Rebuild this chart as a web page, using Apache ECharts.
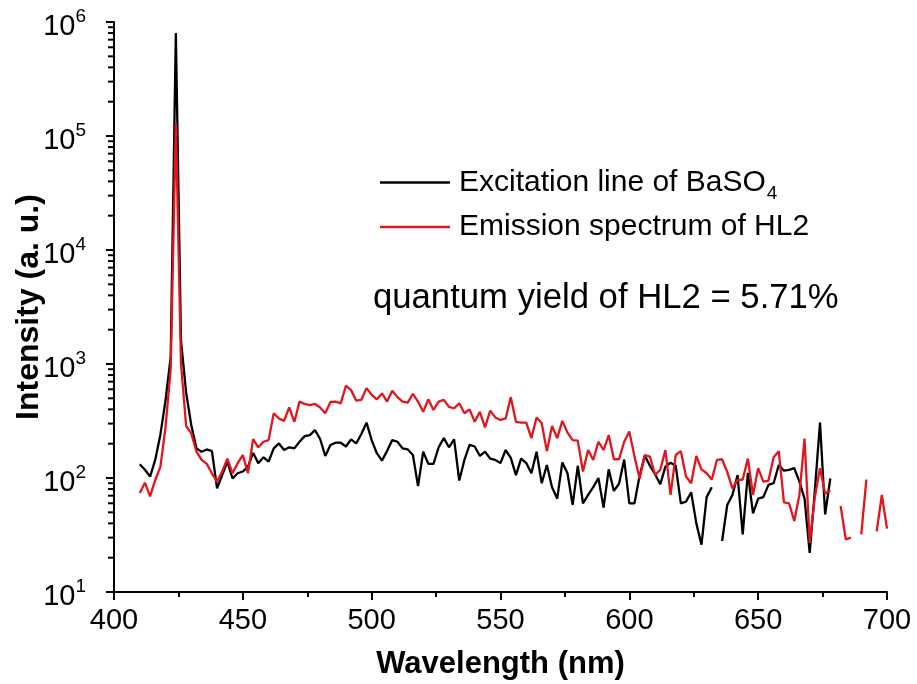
<!DOCTYPE html>
<html>
<head>
<meta charset="utf-8">
<script src="https://cdn.jsdelivr.net/npm/echarts@6.0.0/dist/echarts.min.js"></script>
<style>
  html, body { margin: 0; padding: 0; background: #ffffff; }
  #chart { width: 917px; height: 684px; }
</style>
</head>
<body>
<div id="chart"></div>
<script>
// Wavelength sampling (nm)
const wavelengths = [
  410,412,414,416,418,420,422,424,426,428,430,432,434,436,438,440,442,444,446,448,
  450,452,454,456,458,460,462,464,466,468,470,472,474,476,478,480,482,484,486,488,
  490,492,494,496,498,500,502,504,506,508,510,512,514,516,518,520,522,524,526,528,
  530,532,534,536,538,540,542,544,546,548,550,552,554,556,558,560,562,564,566,568,
  570,572,574,576,578,580,582,584,586,588,590,592,594,596,598,600,602,604,606,608,
  610,612,614,616,618,620,622,624,626,628,630,632,634,636,638,640,642,644,646,648,
  650,652,654,656,658,660,662,664,666,668,670,672,674,676,678,680,682,684,686,688,
  690,692,694,696,698,700
];

// Excitation line of BaSO4 (410–678 nm), intensity in a.u.
const excitation = [
  132,118,103,144,240,480,1150,800000,1600,560,290,182,170,178,172,81,106,139,99,110,
  114,126,166,135,152,139,182,201,176,186,182,208,233,238,263,220,156,195,204,204,
  189,218,201,243,306,215,165,142,173,215,208,182,178,159,85,170,133,133,186,224,
  186,218,95,144,195,189,156,170,148,144,135,176,150,106,148,135,110,170,90,130,
  83,66,137,110,58,128,60,71,83,100,55,119,77,89,145,60,60,105,157,128,
  108,88,126,136,128,60,62,75,40,26,68,83,null,28,58,71,106,32,111,49,
  66,68,87,90,130,116,118,122,93,66,22,78,306,48,99
];

// Emission spectrum of HL2 (410–700 nm), intensity in a.u.
const emission = [
  74,91,69,96,125,280,900,130000,1000,285,246,170,144,133,110,93,114,148,110,135,
  159,110,219,186,208,215,370,333,317,417,311,468,446,436,446,415,370,465,468,452,
  645,590,478,485,614,537,490,552,468,582,512,468,458,548,468,381,490,395,468,485,
  421,409,452,370,400,311,381,278,390,340,323,333,512,311,306,306,224,340,302,172,
  286,224,317,250,215,213,114,176,144,208,176,238,146,146,208,256,154,99,159,154,
  106,118,176,71,159,172,103,90,156,119,110,97,144,146,113,81,96,97,148,71,
  122,93,95,152,172,61,60,42,71,222,27,68,122,73,78,null,57,29,30,null,
  32,97,null,34,71,36
];

// Axis ticks
const xTickInterval = 50;
const yDecades = [10, 100, 1000, 10000, 100000, 1000000];
const yMinorMantissas = [2, 3, 4, 5, 6, 7, 8, 9];

const FONT = '"Liberation Sans", Arial, Helvetica, sans-serif';

// Minor ticks at 2..9 times each decade
const yMinorTicks = [];
yDecades.slice(0, -1).forEach(d => yMinorMantissas.forEach(m => yMinorTicks.push(d * m)));

const pair = (vals) => vals.map((v, i) => [wavelengths[i], v]);

const chart = echarts.init(document.getElementById('chart'), null, { renderer: 'canvas' });

const exponentOf = v => String(Math.round(Math.log10(v)));

const yieldText = {
  id: 'yield',
  type: 'text',
  left: 373,
  top: 281,
  style: {
    text: 'quantum yield of HL2 = 5.71%',
    fontFamily: FONT,
    fontSize: 34.7,
    fill: '#000'
  }
};

chart.setOption({
  animation: false,
  backgroundColor: '#ffffff',
  grid: { left: 114, right: 30, top: 22, bottom: 92, containLabel: false, outerBoundsMode: 'none' },
  legend: {
    orient: 'vertical',
    left: 375,
    top: 157,
    icon: 'rect',
    itemWidth: 70,
    itemHeight: 2.5,
    itemGap: 9,
    data: ['Excitation line of BaSO4', 'Emission spectrum of HL2'],
    formatter: name => name === 'Excitation line of BaSO4'
      ? '{n|Excitation line of BaSO}{sub|4}'
      : '{n|' + name + '}',
    textStyle: {
      color: '#000',
      fontFamily: FONT,
      fontSize: 30,
      padding: [0, 0, 0, 4],
      rich: {
        n: { fontSize: 30, lineHeight: 32, fontFamily: FONT, color: '#000' },
        sub: { fontSize: 19, lineHeight: 19, padding: [22, 0, 0, 1], fontFamily: FONT, color: '#000' }
      }
    }
  },
  graphic: [yieldText],
  xAxis: {
    type: 'value',
    min: 400,
    max: 700,
    interval: xTickInterval,
    name: 'Wavelength (nm)',
    nameLocation: 'middle',
    nameGap: 57,
    nameTextStyle: { fontFamily: FONT, fontSize: 31, fontWeight: 'bold', color: '#000' },
    axisLine: { show: true, onZero: false, lineStyle: { color: '#000', width: 2 } },
    axisTick: { show: true, inside: false, length: 8, lineStyle: { color: '#000', width: 2 } },
    minorTick: { show: true, splitNumber: 2, length: 5, lineStyle: { color: '#000', width: 2 } },
    axisLabel: { fontFamily: FONT, fontSize: 29, color: '#000', margin: 14 },
    splitLine: { show: false },
    minorSplitLine: { show: false }
  },
  yAxis: {
    type: 'log',
    logBase: 10,
    min: 10,
    max: 1000000,
    position: 'left',
    name: 'Intensity (a. u.)',
    nameLocation: 'middle',
    nameGap: 69,
    nameMoveOverlap: false,
    nameTextStyle: { fontFamily: FONT, fontSize: 32, fontWeight: 'bold', color: '#000' },
    axisLine: { show: true, onZero: false, lineStyle: { color: '#000', width: 2 } },
    axisTick: { show: true, inside: false, length: 8, lineStyle: { color: '#000', width: 2 } },
    axisLabel: {
      margin: 28,
      padding: [10, 0, 0, 0],
      formatter: v => '{b|10}{s|' + exponentOf(v) + '}',
      rich: {
        b: { fontFamily: FONT, fontSize: 29, lineHeight: 30, color: '#000' },
        s: { fontFamily: FONT, fontSize: 19, lineHeight: 19, padding: [0, 0, 20, 0], color: '#000' }
      }
    },
    splitLine: { show: false }
  },
  series: [{
    name: 'Excitation line of BaSO4',
    type: 'line',
    data: pair(excitation),
    showSymbol: false,
    symbol: 'none',
    connectNulls: false,
    color: '#000000',
    lineStyle: { color: '#000000', width: 2.3 },
    z: 2
  }, {
    name: 'Emission spectrum of HL2',
    type: 'line',
    data: pair(emission),
    showSymbol: false,
    symbol: 'none',
    connectNulls: false,
    color: '#e3141b',
    lineStyle: { color: '#e3141b', width: 2.3 },
    z: 3
  }]
});

// Minor ticks on the log intensity axis, placed through the grid's coordinate system
const minorTickLines = [];
yMinorTicks.forEach((v, i) => {
  const p = chart.convertToPixel({ gridIndex: 0 }, [400, v]);
  if (!p || !isFinite(p[0]) || !isFinite(p[1])) return;
  minorTickLines.push({
    id: 'ytick' + i,
    type: 'line',
    silent: true,
    z: 10,
    shape: { x1: p[0] - 6, y1: p[1], x2: p[0], y2: p[1] },
    style: { stroke: '#000', lineWidth: 2 }
  });
});
chart.setOption({ graphic: [yieldText].concat(minorTickLines) });
</script>
</body>
</html>
